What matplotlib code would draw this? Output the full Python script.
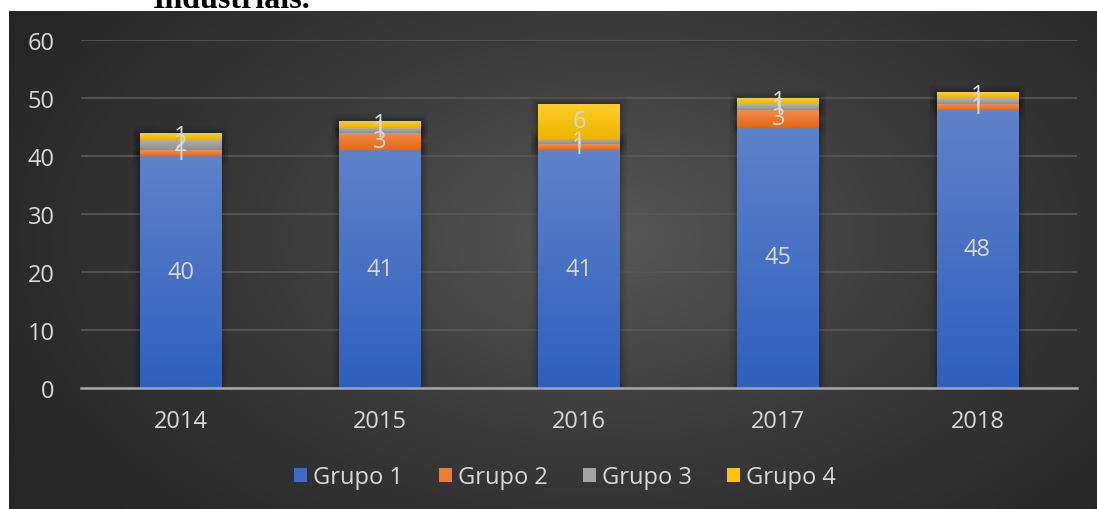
import numpy as np
import matplotlib
matplotlib.use("Agg")
import matplotlib.pyplot as plt
from matplotlib.colors import LinearSegmentedColormap
from matplotlib.patches import Patch
import matplotlib.patheffects as pe

years = ["2014", "2015", "2016", "2017", "2018"]
grupo1 = [40, 41, 41, 45, 48]
grupo2 = [1, 3, 1, 3, 1]
grupo3 = [2, 1, 1, 1, 1]
grupo4 = [1, 1, 6, 1, 1]
series_names = ["Grupo 1", "Grupo 2", "Grupo 3", "Grupo 4"]
yticks = [0, 10, 20, 30, 40, 50, 60]

# gradient colours (top, bottom)
grad = [("#5f82c9", "#2f5fbd"), ("#f48d4e", "#e46a16"),
        ("#b5b5b5", "#8e8e8e"), ("#ffcd2a", "#eeb500")]
legend_colors = ["#3f6cc3", "#ef7c33", "#a3a3a3", "#ffc20e"]

plt.rcParams['font.family'] = ['Open Sans', 'DejaVu Sans']
FS = 17
W, H = 1097, 510
fig = plt.figure(figsize=(W / 100, H / 100), dpi=100)
fig.patch.set_facecolor("white")

# dark radial background panel
bg_ax = fig.add_axes([9 / W, 0, 1 - 9 / W, 1 - 12 / H])
bg_ax.set_axis_off()
ny, nx = 300, 640
yy, xx = np.mgrid[0:ny, 0:nx]
cx, cy = nx * 0.55, ny * 0.45
r = np.sqrt(((xx - cx) / nx) ** 2 + ((yy - cy) / ny * 0.75) ** 2)
r = np.clip(r / 0.62, 0, 1)
bgcmap = LinearSegmentedColormap.from_list("bg", ["#575757", "#3a3a3a", "#262626"])
bg_ax.imshow(r, cmap=bgcmap, aspect="auto", extent=[0, 1, 0, 1], vmin=0, vmax=1)
bg_ax.set_xlim(0, 1)
bg_ax.set_ylim(0, 1)

fig.text(153 / W, 1 - 8 / H, "Industriais.", family="Liberation Serif",
         weight="bold", fontsize=23, color="black", va="baseline", ha="left")

ax = fig.add_axes([81 / W, 1 - 389 / H, (1077 - 81) / W, (389 - 41) / H])
ax.patch.set_alpha(0)
x = np.arange(len(years))
width = 0.41
bottom = np.zeros(len(years))
data = [grupo1, grupo2, grupo3, grupo4]
glow = [pe.Stroke(linewidth=10, foreground="black", alpha=0.05),
        pe.Stroke(linewidth=6, foreground="black", alpha=0.07),
        pe.Stroke(linewidth=3, foreground="black", alpha=0.10),
        pe.Normal()]
for i, vals in enumerate(data):
    bars = ax.bar(x, vals, width, bottom=bottom, color=legend_colors[i],
                  zorder=3, linewidth=0)
    cmap = LinearSegmentedColormap.from_list("g%d" % i, [grad[i][1], grad[i][0]])
    for b in bars:
        b.set_path_effects(glow)
        x0, y0 = b.get_x(), b.get_y()
        g = np.linspace(0, 1, 100).reshape(-1, 1)
        im = ax.imshow(g, cmap=cmap, origin="lower", aspect="auto",
                       extent=[x0, x0 + b.get_width(), y0, y0 + b.get_height()],
                       zorder=4)
        im.set_clip_path(b)
    for b, v in zip(bars, vals):
        ax.text(b.get_x() + b.get_width() / 2, b.get_y() + b.get_height() / 2,
                str(v), ha="center", va="center", color="#d9d9d9",
                fontsize=FS, zorder=6)
    bottom += np.array(vals)

ax.set_xlim(-0.5, 4.5)
ax.set_ylim(0, 60)
ax.set_yticks(yticks)
ax.set_xticks(x)
ax.set_xticklabels(years)
ax.tick_params(axis="both", length=0, colors="#d9d9d9", labelsize=FS)
ax.tick_params(axis="y", pad=19)
ax.tick_params(axis="x", pad=15)
for s in ["top", "right", "left"]:
    ax.spines[s].set_visible(False)
ax.spines["bottom"].set_color("#a6a6a6")
ax.spines["bottom"].set_linewidth(1.8)
ax.spines["bottom"].set_zorder(7)
ax.yaxis.grid(True, color="#595959", linewidth=1.2, zorder=0)
ax.set_axisbelow(True)

handles = [Patch(facecolor=c, edgecolor="none") for c in legend_colors]
leg = fig.legend(handles, series_names, loc="center", bbox_to_anchor=(565 / W, 1 - 478 / H),
                 ncol=4, frameon=False, fontsize=FS, labelcolor="#d9d9d9",
                 handlelength=0.55, handleheight=0.55, handletextpad=0.25,
                 columnspacing=1.5)

fig.savefig("out.png", dpi=100, facecolor=fig.get_facecolor())
